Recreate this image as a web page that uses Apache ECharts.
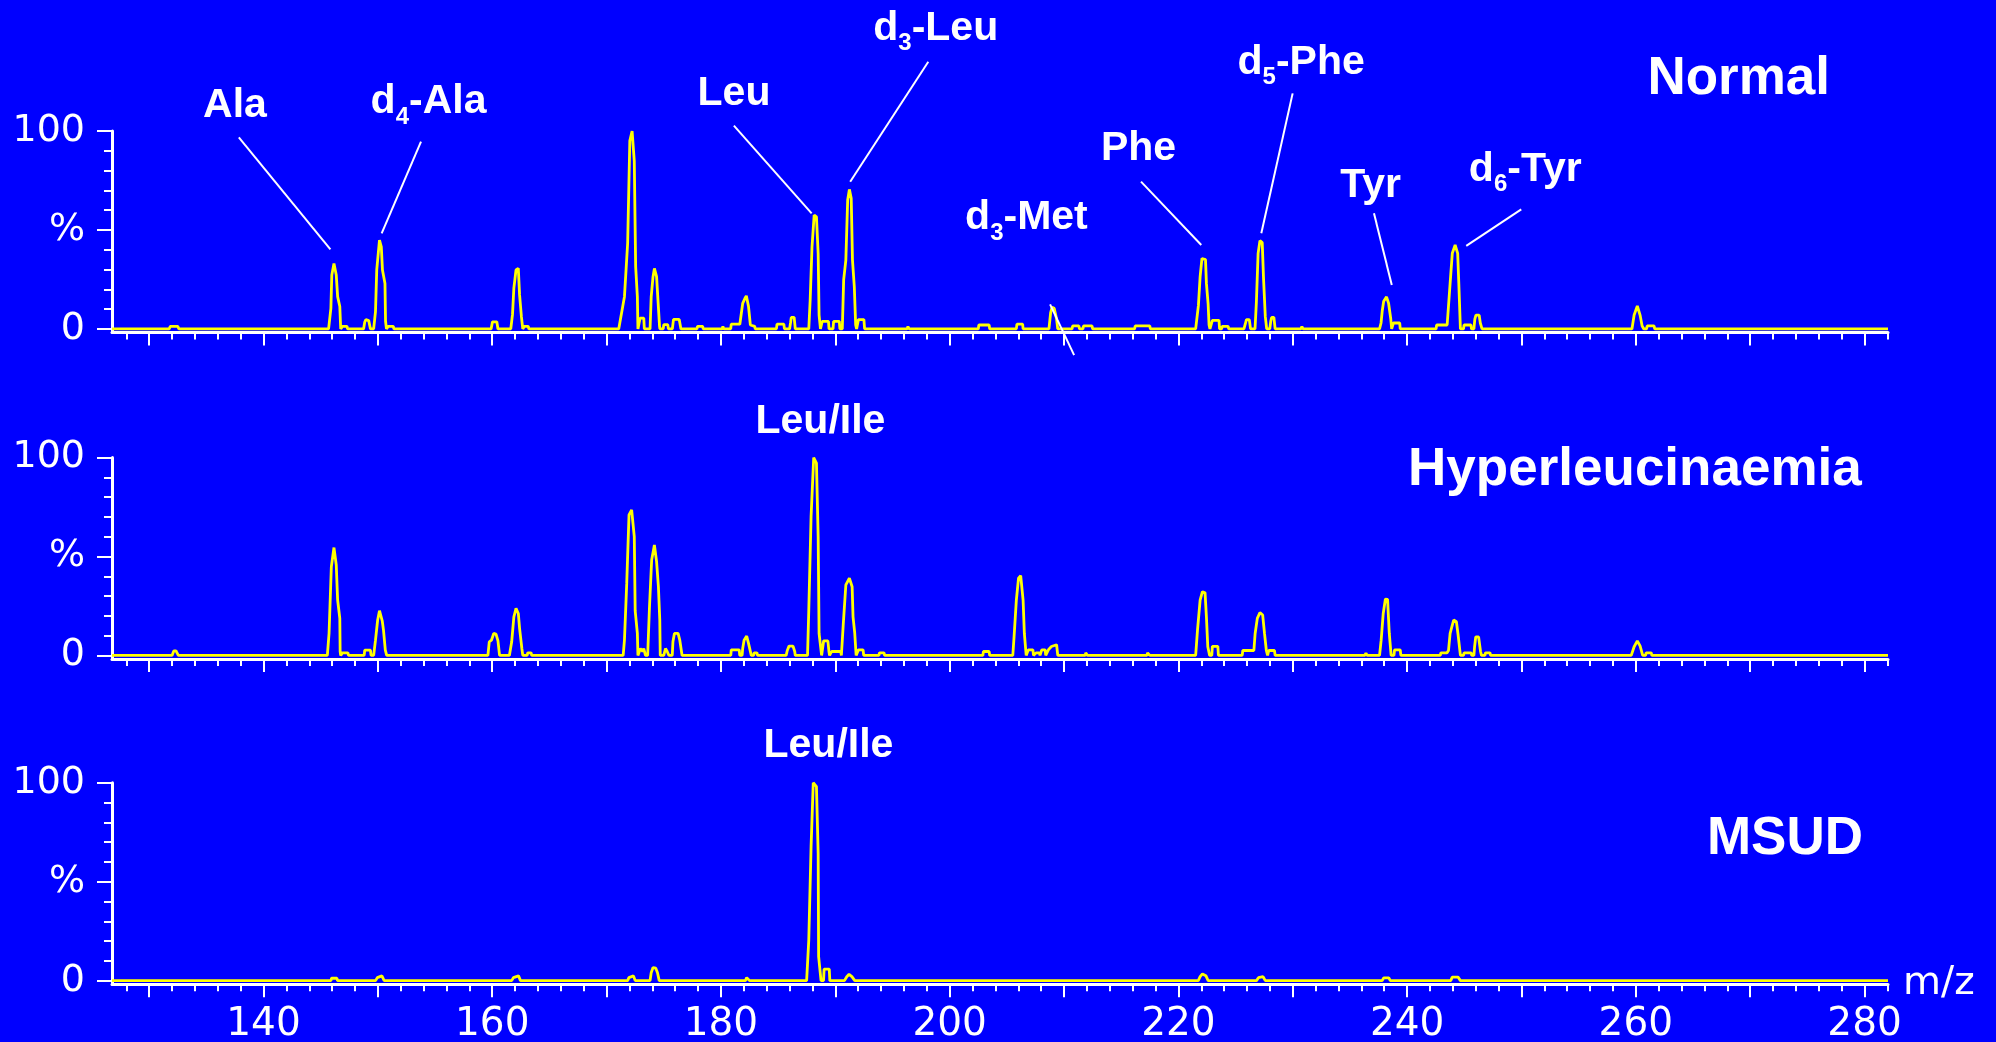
<!DOCTYPE html>
<html>
<head>
<meta charset="utf-8">
<title>Amino acid spectra</title>
<script src="https://cdn.jsdelivr.net/npm/echarts@6/dist/echarts.min.js"></script>
<style>
  html, body { margin: 0; padding: 0; background: #0000ff; }
  #chart { width: 1996px; height: 1042px; }
</style>
</head>
<body>
<div id="chart"></div>
<script>
// axis ranges
const mzRange = [126.75, 282.05];
const pctRange = [-1.8, 100];

// tick labels / tick positions
const mzLabelTicks = [140, 160, 180, 200, 220, 240, 260, 280];
const mzMajorTicks = [130, 140, 150, 160, 170, 180, 190, 200, 210, 220, 230, 240, 250, 260, 270, 280];
const mzMinorTicks = [128, 130, 132, 134, 136, 138, 140, 142, 144, 146, 148, 150, 152, 154, 156, 158, 160,
  162, 164, 166, 168, 170, 172, 174, 176, 178, 180, 182, 184, 186, 188, 190, 192, 194, 196, 198, 200,
  202, 204, 206, 208, 210, 212, 214, 216, 218, 220, 222, 224, 226, 228, 230, 232, 234, 236, 238, 240,
  242, 244, 246, 248, 250, 252, 254, 256, 258, 260, 262, 264, 266, 268, 270, 272, 274, 276, 278, 280, 282];
const pctTicks = [0, 10, 20, 30, 40, 50, 60, 70, 80, 90, 100];
const pctLabelTicks = [0, 50, 100];

const panelNames = ["Normal", "Hyperleucinaemia", "MSUD"];

// [m/z, relative intensity %]
const normalSpectrum = [
  [126.75,0],[131.75,0],[131.85,1.3],[132.5,1.3],[132.6,0],
  [145.69,0],[145.89,10.4],[145.97,27.2],[146.16,33.1],[146.36,27.2],[146.48,16.3],[146.67,11.3],[146.75,0],
  [146.85,0],[146.9,1.3],[147.3,1.3],[147.35,0],
  [148.75,0],[148.85,3.5],[148.95,4.7],[149.2,4.2],[149.35,0],
  [149.63,0],[149.79,8.7],[149.9,29.8],[150.14,44.9],[150.3,41.5],[150.4,29.8],[150.62,23],[150.67,3.9],[150.75,0],
  [150.85,0],[150.9,1.3],[151.35,1.3],[151.4,0],
  [159.9,0],[160.02,3.6],[160.4,3.6],[160.5,0],
  [161.62,0],[161.77,7.2],[161.89,20.6],[162.08,29.8],[162.28,30.6],[162.39,17.2],[162.55,6.2],[162.67,0],
  [162.75,0],[162.8,1.3],[163.15,1.3],[163.2,0],
  [171.06,0],[171.56,16.3],[171.84,43.3],[172.03,95],[172.23,100],[172.42,84.8],[172.54,31.5],[172.69,16.3],[172.74,0],
  [172.88,0],[172.93,5.5],[173.25,5.5],[173.3,0],
  [173.8,0],[173.9,16.3],[174.06,26.4],[174.18,30.6],[174.37,26.4],[174.49,14.7],[174.63,1.3],[174.66,0],
  [174.95,0],[175.0,2.2],[175.35,2.2],[175.4,0],
  [175.75,0],[175.85,4.8],[176.35,4.8],[176.5,0],
  [177.9,0],[177.95,1.3],[178.4,1.3],[178.45,0],
  [180.1,0],[180.17,1.2],[180.25,0],
  [180.85,0],[180.9,2.4],[181.65,2.4],[181.9,12.9],[182.1,15.5],[182.22,16.7],[182.41,11.3],[182.57,2],[182.65,1.3],[182.95,1.3],[183.0,0],
  [184.85,0],[184.9,2.4],[185.5,2.4],[185.55,0],
  [186.0,0],[186.08,3],[186.15,5.8],[186.4,5.8],[186.5,0],
  [187.68,0],[187.8,14.5],[187.96,41.4],[188.15,57.5],[188.35,56.6],[188.5,38],[188.58,7],[188.7,0],
  [188.8,0],[188.85,3.8],[189.4,3.8],[189.45,0],
  [189.8,0],[189.85,3.8],[190.35,3.8],[190.4,0],
  [190.61,0],[190.73,24.9],[190.92,34.8],[191.08,65.1],[191.23,70.5],[191.39,66],[191.5,34.8],[191.66,21.3],[191.78,2],[191.86,0],
  [191.97,0],[192.02,4.7],[192.5,4.7],[192.56,0],
  [196.27,0],[196.35,1.2],[196.46,0],
  [202.5,0],[202.55,2],[203.45,2],[203.5,0],
  [205.83,0],[205.88,2.4],[206.38,2.4],[206.42,0],
  [208.68,0],[208.83,8.3],[208.95,10.9],[209.14,10.4],[209.34,5.3],[209.45,0],
  [210.7,0],[210.75,1.5],[211.3,1.5],[211.35,0],[211.65,0],[211.7,1.5],[212.45,1.5],[212.5,0],
  [216.17,0],[216.22,1.5],[217.5,1.5],[217.55,0],
  [221.51,0],[221.75,11.9],[221.9,26.4],[222.06,35.6],[222.17,36.5],[222.37,35],[222.45,23],[222.6,12.5],[222.68,2],[222.76,0],
  [222.92,0],[222.97,4.3],[223.55,4.3],[223.6,0],[223.78,0],[223.83,1.3],[224.35,1.3],[224.4,0],
  [225.73,0],[225.85,2.5],[225.95,4.7],[226.2,4.7],[226.31,0],
  [226.7,0],[226.82,13.7],[226.97,38.2],[227.13,44.6],[227.33,43.6],[227.45,24.7],[227.6,6.2],[227.72,0],
  [227.99,0],[228.08,4],[228.15,5.8],[228.35,5.8],[228.46,0],
  [230.7,0],[230.8,1.2],[230.9,0],
  [237.59,0],[237.72,3],[237.82,8.9],[237.95,14],[238.06,14.6],[238.2,16.2],[238.38,13],[238.57,5],[238.65,0],
  [238.75,0],[238.8,3],[239.35,3],[239.4,0],
  [242.53,0],[242.58,2],[243.5,2],[243.62,3],[243.76,23],[243.95,38.2],[244.2,42.4],[244.42,38.2],[244.52,23],[244.66,0],
  [244.93,0],[244.98,2],[245.58,2],[245.63,0],
  [245.84,0],[245.92,5],[246.02,7],[246.3,7],[246.4,3],[246.55,0],
  [259.66,0],[259.85,7],[260.13,11.6],[260.37,7],[260.55,1.5],[260.7,0],
  [260.94,0],[260.99,1.5],[261.6,1.5],[261.65,0],
  [282.05,0]
];

const hyperSpectrum = [
  [126.75,0],[132.0,0],[132.15,2.3],[132.35,2.3],[132.55,0],
  [145.58,0],[145.73,11.1],[145.93,44.8],[146.16,54.5],[146.36,45.7],[146.48,28],[146.67,18.7],[146.7,2],[146.75,0],
  [146.85,0],[146.9,1.3],[147.38,1.3],[147.43,0],
  [148.8,0],[148.85,2.7],[149.35,2.7],[149.4,0],
  [149.63,0],[149.79,7.7],[149.98,17.9],[150.14,22.6],[150.38,17.5],[150.49,12.8],[150.65,2.7],[150.77,0],
  [159.62,0],[159.74,6.9],[159.93,7.7],[160.13,11.1],[160.33,10.8],[160.5,7.4],[160.64,0],
  [161.5,0],[161.7,6.9],[161.89,19.5],[162.08,23.8],[162.28,21.2],[162.39,13.7],[162.59,3.5],[162.67,0],
  [163.05,0],[163.1,1.3],[163.4,1.3],[163.45,0],
  [171.45,0],[171.56,7.7],[171.76,36.4],[171.96,71],[172.19,73.5],[172.42,60],[172.5,22.5],[172.69,11.1],[172.74,0],
  [172.9,0],[172.95,3.5],[173.15,2],[173.25,3.5],[173.4,0],
  [173.59,0],[173.75,24.6],[173.94,48.2],[174.18,55.8],[174.37,47.4],[174.53,34.7],[174.65,17.9],[174.69,0],
  [175.0,0],[175.15,3.5],[175.3,2],[175.45,0],
  [175.74,0],[175.8,6.9],[175.93,11.1],[176.25,11.1],[176.4,7.7],[176.6,0],
  [180.86,0],[180.9,2.8],[181.6,2.8],[181.64,0],
  [181.85,0],[181.9,3.5],[182.02,7.7],[182.25,9.8],[182.41,6.1],[182.6,1.3],[182.65,0],
  [182.85,0],[182.9,1.3],[183.15,1.3],[183.2,0],
  [185.7,0],[185.8,2.5],[185.95,4.7],[186.3,4.7],[186.45,2],[186.5,0],
  [187.57,0],[187.68,22.9],[187.88,70.1],[188.11,100],[188.35,97.2],[188.5,60],[188.58,11.1],[188.8,0],
  [188.9,0],[188.98,7.4],[189.35,7.4],[189.44,2],[189.5,0],
  [189.63,0],[189.68,2],[190.48,2],[190.53,0],
  [190.69,15.3],[190.92,35.6],[191.23,39],[191.47,34.7],[191.55,19.5],[191.7,11.1],[191.82,0],
  [191.97,0],[192.02,2.8],[192.43,2.8],[192.48,0],
  [193.81,0],[193.86,1.3],[194.26,1.3],[194.31,0],
  [202.9,0],[202.95,2],[203.45,2],[203.5,0],
  [205.52,0],[205.63,9.4],[205.83,28],[206.02,39],[206.21,40.3],[206.42,28],[206.53,11.1],[206.69,0],
  [206.82,0],[206.87,2.8],[207.28,2.8],[207.33,0],[207.5,0],[207.55,1.3],[207.85,1.3],[207.9,0],
  [208.0,0],[208.05,2.8],[208.35,2.8],[208.4,0],
  [208.55,0],[208.65,3],[208.9,4.5],[209.0,5.4],[209.35,5.4],[209.45,0],
  [211.85,0],[211.9,1.3],[212.0,1.3],[212.05,0],
  [217.25,0],[217.3,1.3],[217.45,1.3],[217.5,0],
  [221.51,0],[221.67,12.8],[221.9,28],[222.1,32.2],[222.33,31.7],[222.45,19.5],[222.57,4.4],[222.73,0],
  [222.92,0],[222.97,4.6],[223.45,4.6],[223.5,0],
  [225.58,0],[225.63,2.5],[226.6,2.5],[226.71,11.1],[226.9,18.7],[227.13,21.6],[227.37,20.4],[227.53,11.1],[227.69,2.5],[227.8,0],
  [227.85,0],[227.9,2.5],[228.4,2.5],[228.46,0],
  [236.3,0],[236.4,1.2],[236.5,0],
  [237.59,0],[237.73,7.7],[237.91,21.2],[238.1,28.5],[238.29,28.3],[238.44,11.1],[238.6,0],
  [238.85,0],[238.9,2.8],[239.4,2.8],[239.45,0],
  [242.9,0],[242.95,1.3],[243.48,1.3],[243.62,2.5],[243.76,11.1],[244.07,17.9],[244.31,17],[244.46,10.3],[244.66,0],
  [244.93,0],[244.98,1.3],[245.6,1.3],[245.65,0],
  [245.84,0],[245.9,4.4],[246.0,9.4],[246.25,9.4],[246.42,2],[246.5,0],
  [246.8,0],[246.85,1.3],[247.25,1.3],[247.3,0],
  [259.6,0],[259.85,4.4],[260.13,7.4],[260.37,4.8],[260.6,0],
  [260.85,0],[260.9,1.3],[261.35,1.3],[261.4,0],
  [282.05,0]
];

const msudSpectrum = [
  [126.75,0],[145.89,0],[145.95,1.2],[146.42,1.2],[146.47,0],
  [149.8,0],[149.95,1.5],[150.1,2.4],[150.35,2.4],[150.55,0],
  [161.7,0],[161.85,1.5],[162.0,2.4],[162.3,2.4],[162.47,0],
  [171.84,0],[171.95,1.5],[172.05,2.4],[172.35,2.4],[172.5,0],
  [173.8,0],[173.9,4],[174.06,6.6],[174.3,6.3],[174.45,4],[174.6,0],
  [182.14,0],[182.25,1.5],[182.4,1.5],[182.5,0],
  [187.49,0],[187.68,20.6],[187.88,67.7],[188.07,100],[188.35,98],[188.5,64.3],[188.54,12.1],[188.75,0],
  [188.97,0],[189.02,5.8],[189.47,5.8],[189.52,0],
  [190.8,0],[191.0,2],[191.2,3.2],[191.45,2],[191.7,0],
  [221.74,0],[221.9,2],[222.1,3.4],[222.4,2.5],[222.6,0],
  [226.83,0],[227.0,1.5],[227.15,2.4],[227.4,2],[227.6,0],
  [237.82,0],[237.95,1.4],[238.4,1.4],[238.53,0],
  [243.81,0],[243.95,1.8],[244.1,2.4],[244.45,1.8],[244.66,0],
  [282.05,0]
];

const spectra = [normalSpectrum, hyperSpectrum, msudSpectrum];

// peak annotations, placed in data units (m/z, %) of their panel
const peakLabels = [
  { panel: 0, pre: "Ala", at: [137.5, 112.6], from: [137.84, 96.8], to: [145.85, 40.2] },
  { panel: 0, pre: "d", sub: "4", post: "-Ala", at: [154.43, 114.7], from: [153.77, 94.6], to: [150.33, 48.3] },
  { panel: 0, pre: "Leu", at: [181.14, 118.9], from: [181.13, 102.7], to: [187.93, 58.4] },
  { panel: 0, pre: "d", sub: "3", post: "-Leu", at: [198.78, 151.8], from: [198.13, 135], to: [191.3, 74.4] },
  { panel: 0, pre: "d", sub: "3", post: "-Met", at: [206.71, 56], from: [208.78, 12.4], to: [210.88, -13.2] },
  { panel: 0, pre: "Phe", at: [216.51, 90.9], from: [216.73, 74.4], to: [222.0, 42.4] },
  { panel: 0, pre: "d", sub: "5", post: "-Phe", at: [230.73, 134.6], from: [229.99, 119], to: [227.25, 48.3] },
  { panel: 0, pre: "Tyr", at: [236.81, 72.2], from: [237.1, 58.4], to: [238.66, 22.2] },
  { panel: 0, pre: "d", sub: "6", post: "-Tyr", at: [250.33, 80.5], from: [249.98, 60.4], to: [245.17, 42] },
  { panel: 1, pre: "Leu/Ile", at: [188.7, 118.2] },
  { panel: 2, pre: "Leu/Ile", at: [189.4, 118.5] }
];
const panelNameAt = [[269.0, 126.3], [259.92, 93.4], [273.04, 71.6]];

const gridTops = [131, 457.5, 782.7];
const gridHeight = 201.5;
const numFont = "DejaVu Sans";
const labelFont = "Liberation Sans";

const chart = echarts.init(document.getElementById("chart"));

const grids = [], xAxes = [], yAxes = [], series = [];
gridTops.forEach((top, i) => {
  grids.push({ left: 112, width: 1776, top: top, height: gridHeight, outerBoundsMode: "none", containLabel: false });
  const isLast = i === gridTops.length - 1;
  // minor ticks + axis line
  xAxes.push({
    type: "value", gridIndex: i, min: mzRange[0], max: mzRange[1], position: "bottom",
    axisLine: { show: true, onZero: false, lineStyle: { color: "#fff", width: 3 } },
    axisTick: { show: true, length: 7, customValues: mzMinorTicks, lineStyle: { color: "#fff", width: 2 } },
    axisLabel: { show: false },
    splitLine: { show: false }
  });
  // major ticks + labels
  xAxes.push({
    type: "value", gridIndex: i, min: mzRange[0], max: mzRange[1], position: "bottom",
    axisLine: { show: false, onZero: false },
    axisTick: { show: true, length: 13, customValues: mzMajorTicks, lineStyle: { color: "#fff", width: 2 } },
    axisLabel: {
      show: isLast, customValues: mzLabelTicks, margin: 21,
      color: "#fff", fontSize: 39, fontFamily: numFont
    },
    name: isLast ? "m/z" : "",
    nameLocation: "end",
    nameGap: 15,
    nameTextStyle: { color: "#fff", fontSize: 39, fontFamily: numFont },
    splitLine: { show: false }
  });
  yAxes.push({
    type: "value", gridIndex: i, min: pctRange[0], max: pctRange[1], position: "left",
    axisLine: { show: true, onZero: false, lineStyle: { color: "#fff", width: 3 } },
    axisTick: { show: true, length: 8, customValues: pctTicks, lineStyle: { color: "#fff", width: 2 } },
    axisLabel: { show: false },
    splitLine: { show: false }
  });
  yAxes.push({
    type: "value", gridIndex: i, min: pctRange[0], max: pctRange[1], position: "left",
    axisLine: { show: false, onZero: false },
    axisTick: { show: true, length: 15, customValues: pctLabelTicks, lineStyle: { color: "#fff", width: 2 } },
    axisLabel: {
      show: true, customValues: pctLabelTicks, margin: 27,
      color: "#fff", fontSize: 38, fontFamily: numFont,
      formatter: v => (v === 50 ? "%" : String(v))
    },
    splitLine: { show: false }
  });
  series.push({
    type: "line",
    xAxisIndex: 2 * i,
    yAxisIndex: 2 * i,
    data: spectra[i],
    showSymbol: false,
    symbol: "none",
    clip: false,
    silent: true,
    lineStyle: { color: "#ffff00", width: 2.8 }
  });
});

chart.setOption({
  backgroundColor: "#0000ff",
  animation: false,
  grid: grids,
  xAxis: xAxes,
  yAxis: yAxes,
  series: series
});

// text labels need widths to put subscripts in place
const ctx = document.createElement("canvas").getContext("2d");
function textWidth(str, size) {
  ctx.font = "bold " + size + "px \"" + labelFont + "\"";
  return ctx.measureText(str).width;
}
function textEl(str, x, y, size, align) {
  return {
    type: "text", x: x, y: y, z: 100,
    style: {
      text: str, fill: "#fff", fontSize: size, fontWeight: "bold", fontFamily: labelFont,
      align: align, verticalAlign: "middle"
    }
  };
}

const graphics = [];
peakLabels.forEach(lab => {
  const toPx = p => chart.convertToPixel({ xAxisIndex: 2 * lab.panel, yAxisIndex: 2 * lab.panel }, p);
  const c = toPx(lab.at);
  const parts = [{ t: lab.pre, size: 41, dy: 0 }];
  if (lab.sub) parts.push({ t: lab.sub, size: 24, dy: 15 });
  if (lab.post) parts.push({ t: lab.post, size: 41, dy: 0 });
  const total = parts.reduce((s, p) => s + textWidth(p.t, p.size), 0);
  let x = c[0] - total / 2;
  parts.forEach(p => {
    graphics.push(textEl(p.t, x, c[1] + p.dy, p.size, "left"));
    x += textWidth(p.t, p.size);
  });
  if (lab.from) {
    const a = toPx(lab.from), b = toPx(lab.to);
    graphics.push({
      type: "line", z: 100,
      shape: { x1: a[0], y1: a[1], x2: b[0], y2: b[1] },
      style: { stroke: "#fff", lineWidth: 2 }
    });
  }
});
panelNames.forEach((name, i) => {
  const c = chart.convertToPixel({ xAxisIndex: 2 * i, yAxisIndex: 2 * i }, panelNameAt[i]);
  graphics.push(textEl(name, c[0], c[1], 53, "center"));
});

chart.setOption({ graphic: graphics });
window.addEventListener("resize", chart.resize);
</script>
</body>
</html>
